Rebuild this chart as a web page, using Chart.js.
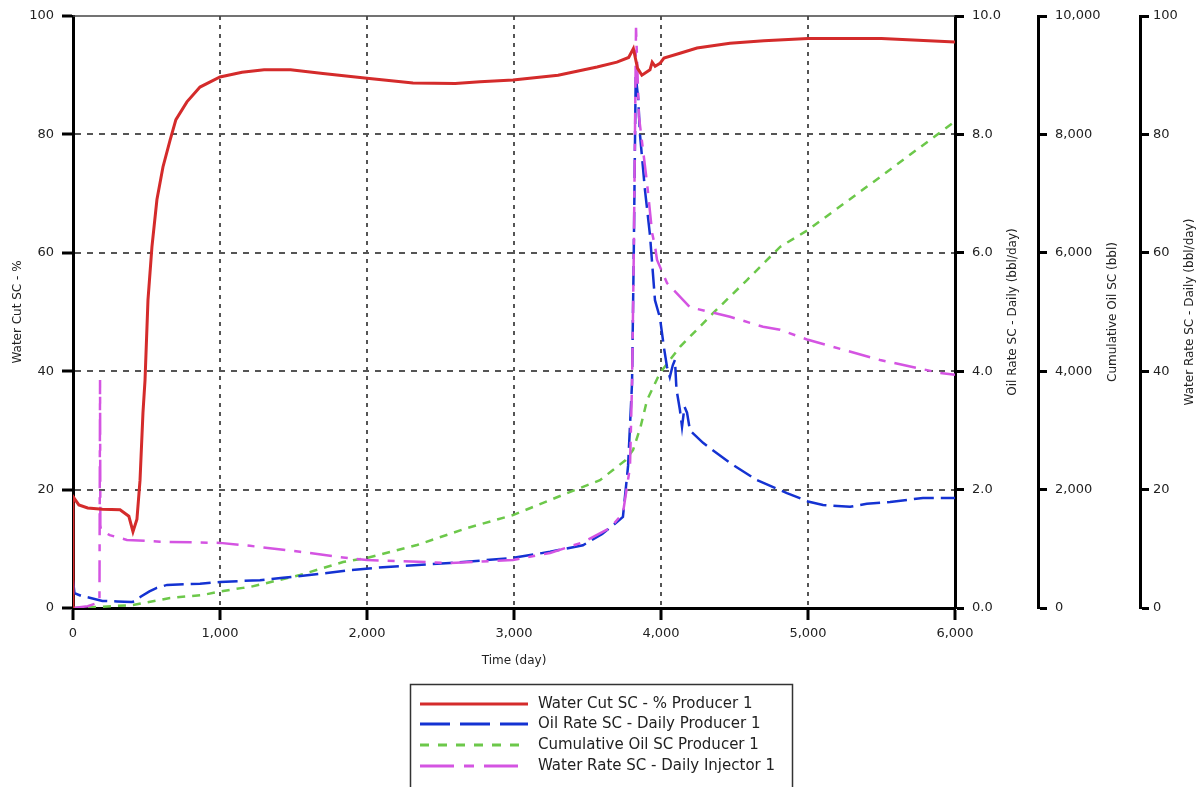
<!DOCTYPE html>
<html>
<head>
<meta charset="utf-8">
<script src="https://cdn.jsdelivr.net/npm/chart.js@4.4.1/dist/chart.umd.min.js"></script>
<style>
  html, body { margin: 0; padding: 0; background: #fff; }
</style>
</head>
<body>
<canvas id="well-chart" width="1204" height="787"></canvas>
<script>
let wellCanvas = document.getElementById("well-chart");

// Water cut, producer 1 (%)
const waterCutDays = [0, 0, 40, 100, 200, 320, 380, 408, 435, 456, 476, 490, 510, 537, 571, 612, 660, 700, 775, 864, 1000, 1150, 1300, 1480, 1700, 2000, 2313, 2600, 2769, 2993, 3300, 3565, 3700, 3780, 3812, 3840, 3870, 3925, 3940, 3960, 3993, 4020, 4129, 4245, 4469, 4700, 5000, 5500, 6000];
const waterCut = [0, 18.8, 17.4, 16.9, 16.7, 16.6, 15.5, 12.9, 15, 21.6, 33, 38.5, 52, 61, 69, 74.5, 79, 82.5, 85.5, 88, 89.7, 90.5, 90.9, 90.9, 90.3, 89.5, 88.7, 88.6, 88.9, 89.2, 90, 91.4, 92.2, 93, 94.5, 91.2, 90, 90.9, 92.2, 91.5, 92, 92.9, 93.7, 94.6, 95.4, 95.8, 96.2, 96.2, 95.6];

// Oil rate, producer 1 (bbl/day)
const oilDays = [0, 10, 60, 120, 200, 300, 400, 430, 460, 520, 570, 640, 864, 1000, 1272, 1429, 1728, 1884, 2109, 2565, 2973, 3245, 3469, 3600, 3700, 3741, 3776, 3803, 3815, 3828, 3845, 3857, 3891, 3925, 3959, 3993, 4020, 4041, 4060, 4080, 4095, 4105, 4129, 4143, 4160, 4177, 4197, 4286, 4469, 4653, 4857, 5000, 5102, 5286, 5400, 5558, 5782, 6000];
const oilRate = [0.47, 0.25, 0.2, 0.17, 0.12, 0.11, 0.1, 0.12, 0.19, 0.28, 0.34, 0.39, 0.41, 0.44, 0.47, 0.51, 0.59, 0.64, 0.69, 0.76, 0.84, 0.95, 1.06, 1.25, 1.45, 1.54, 2.4, 3.8, 6.05, 9.0, 8.6, 8.0, 7.06, 6.3, 5.2, 4.9, 4.4, 4.07, 3.9, 4.1, 4.19, 3.7, 3.34, 3.06, 3.4, 3.3, 3.0, 2.79, 2.45, 2.16, 1.94, 1.8, 1.74, 1.71, 1.76, 1.79, 1.86, 1.86];

// Cumulative oil, producer 1 (bbl)
const cumDays = [0, 163, 408, 660, 884, 1000, 1156, 1204, 1544, 1837, 2000, 2340, 2680, 2993, 3361, 3585, 3673, 3760, 3810, 3860, 3905, 3993, 4129, 4354, 4585, 4810, 5000, 5490, 6000];
const cumOil = [0, 17, 50, 170, 220, 280, 340, 355, 557, 777, 845, 1064, 1350, 1570, 1940, 2160, 2330, 2500, 2670, 3050, 3510, 3970, 4410, 4980, 5540, 6100, 6385, 7280, 8220];

// Water rate, injector 1 (bbl/day)
const injDays = [0, 100, 180, 184, 186, 190, 250, 367, 592, 1000, 1204, 1544, 1816, 2000, 2245, 2565, 2993, 3245, 3469, 3653, 3741, 3789, 3803, 3815, 3830, 3850, 3905, 3940, 3960, 3973, 4041, 4197, 4469, 4694, 4810, 5000, 5490, 5898, 6000];
const injRate = [0, 0.3, 1, 38.5, 14, 13.2, 12.3, 11.5, 11.2, 11, 10.5, 9.5, 8.6, 8.1, 7.9, 7.6, 8.1, 9.3, 11.1, 13.5, 16, 23.8, 38, 60, 98, 83, 71.8, 63.3, 61, 58.8, 54.9, 50.8, 49.2, 47.5, 47, 45.3, 41.9, 39.7, 39.4];

const seriesNames = ["Water Cut SC - % Producer 1", "Oil Rate SC - Daily Producer 1", "Cumulative Oil SC Producer 1", "Water Rate SC - Daily Injector 1"];
const rightTitles = ["Oil Rate SC - Daily (bbl/day)", "Cumulative Oil SC (bbl)", "Water Rate SC - Daily (bbl/day)"];

const toPoints = (xs, ys) => xs.map((d, i) => ({ x: d, y: ys[i] }));
const commas = v => Number(v).toLocaleString("en-US");

Chart.defaults.font.family = "'DejaVu Sans', sans-serif";
Chart.defaults.color = "#222";

const tickFont = { size: 13 };
const titleFont = { size: 12 };

// legend dash patterns are drawn a bit longer than in the plot, like the original
const legendDash = [[], [30, 10], [9, 9], [34, 10, 10, 10]];

// Datasets
const wellData = {
    datasets: [{
        label: seriesNames[0],
        data: toPoints(waterCutDays, waterCut),
        borderColor: "#d42b2b",
        borderWidth: 3,
        yAxisID: "y",
        order: 0
    }, {
        label: seriesNames[1],
        data: toPoints(oilDays, oilRate),
        borderColor: "#1432d2",
        borderWidth: 2.5,
        borderDash: [20, 7],
        yAxisID: "yOil",
        order: 2
    }, {
        label: seriesNames[2],
        data: toPoints(cumDays, cumOil),
        borderColor: "#6cc84a",
        borderWidth: 2.5,
        borderDash: [8, 7],
        yAxisID: "yCum",
        order: 3
    }, {
        label: seriesNames[3],
        data: toPoints(injDays, injRate),
        borderColor: "#d454e2",
        borderWidth: 2.5,
        borderDash: [22, 9, 7, 9],
        yAxisID: "yWater",
        order: 1
    }]
};

const rightAxis = (min, max, step, fmt, width, weight, pad) => ({
    type: "linear",
    position: "right",
    weight: weight,
    min: min,
    max: max,
    afterFit: s => { s.width = width; },
    afterBuildTicks: s => { s.ticks = []; for (let v = min; v <= max + 1e-9; v += step) s.ticks.push({ value: v }); },
    ticks: { font: tickFont, padding: pad, callback: fmt },
    grid: { drawOnChartArea: false, tickLength: 9, tickWidth: 3, tickColor: "#000" },
    border: { color: "#000", width: 3 }
});

const wellOptions = {
    responsive: false,
    animation: false,
    layout: { padding: { top: 16, bottom: 115, left: 0, right: 0 } },
    elements: { point: { radius: 0 }, line: { tension: 0, fill: false } },
    scales: {
        x: {
            type: "linear",
            min: 0,
            max: 6000,
            afterFit: s => { s.height = 64; },
            ticks: { stepSize: 1000, font: tickFont, padding: 6, maxRotation: 0, callback: commas },
            grid: {
                color: c => (c.tick.value === 0 || c.tick.value === 6000) ? "rgba(0,0,0,0)" : "#555",
                lineWidth: 2,
                tickLength: 12,
                tickWidth: 3,
                tickColor: "#000"
            },
            border: { color: "#000", width: 3, dash: [4, 5] },
            title: { display: true, text: "Time (day)", font: titleFont, padding: { top: 0, bottom: 4 } }
        },
        y: {
            type: "linear",
            position: "left",
            min: 0,
            max: 100,
            afterFit: s => { s.width = 73; },
            ticks: { stepSize: 20, font: tickFont, padding: 8 },
            grid: {
                color: c => (c.tick.value === 0 || c.tick.value === 100) ? "rgba(0,0,0,0)" : "#555",
                lineWidth: 2,
                tickLength: 11,
                tickWidth: 3,
                tickColor: "#000"
            },
            border: { color: "#000", width: 3, dash: [6, 6] },
            title: { display: true, text: "Water Cut SC - %", font: titleFont, padding: { top: 11, bottom: 0 } }
        },
        yOil: rightAxis(0, 10, 2, v => Number(v).toFixed(1), 83, 1, 8),
        yCum: rightAxis(0, 10000, 2000, commas, 102, 2, 8),
        yWater: rightAxis(0, 100, 20, v => v, 64, 3, 4)
    },
    plugins: {
        legend: { display: false },
        tooltip: { enabled: false }
    }
};

// thin top frame, right axis titles and the boxed legend
const wellDecor = {
    id: "wellDecor",
    beforeDatasetsDraw(chart) {
        const { ctx, chartArea } = chart;
        ctx.save();
        ctx.strokeStyle = "#444";
        ctx.lineWidth = 1.5;
        ctx.beginPath();
        ctx.moveTo(chartArea.left, chartArea.top);
        ctx.lineTo(chartArea.right, chartArea.top);
        ctx.stroke();
        ctx.restore();
    },
    afterDraw(chart) {
        const { ctx, chartArea } = chart;
        const midY = (chartArea.top + chartArea.bottom) / 2;
        const titleX = [1013, 1113, 1190];
        ctx.save();
        ctx.fillStyle = "#222";
        ctx.font = "12px 'DejaVu Sans', sans-serif";
        ctx.textAlign = "center";
        ctx.textBaseline = "middle";
        rightTitles.forEach((t, i) => {
            ctx.save();
            ctx.translate(titleX[i], midY);
            ctx.rotate(-Math.PI / 2);
            ctx.fillText(t, 0, 0);
            ctx.restore();
        });
        ctx.restore();

        // legend
        ctx.save();
        ctx.strokeStyle = "#333";
        ctx.lineWidth = 1.5;
        ctx.strokeRect(410.5, 684.5, 382, 120);
        ctx.font = "15px 'DejaVu Sans', sans-serif";
        ctx.textBaseline = "middle";
        ctx.textAlign = "left";
        const rowY = [704, 724, 745, 766];
        chart.data.datasets.forEach((ds, i) => {
            ctx.strokeStyle = ds.borderColor;
            ctx.lineWidth = 3;
            ctx.setLineDash(legendDash[i]);
            ctx.beginPath();
            ctx.moveTo(420, rowY[i]);
            ctx.lineTo(528, rowY[i]);
            ctx.stroke();
            ctx.setLineDash([]);
            ctx.fillStyle = "#222";
            ctx.fillText(ds.label, 538, rowY[i]);
        });
        ctx.restore();
    }
};

// Chart
let wellChart = new Chart(wellCanvas, {
    type: "line",
    data: wellData,
    options: wellOptions,
    plugins: [wellDecor]
});
</script>
</body>
</html>
